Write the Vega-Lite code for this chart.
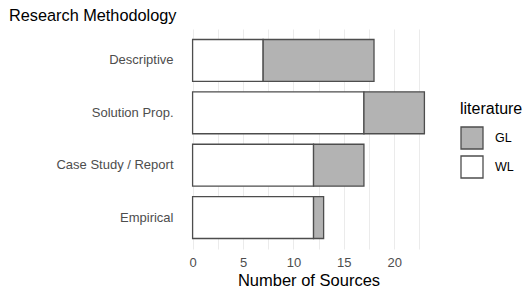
{
  "$schema": "https://vega.github.io/schema/vega-lite/v6.json",
  "autosize": {"type": "none"},
  "width": 255,
  "height": 220,
  "padding": {"left": 181, "top": 29, "right": 90, "bottom": 42},
  "background": "white",
  "config": {
    "font": "Liberation Sans",
    "view": {"stroke": null}
  },
  "title": {
    "text": "Research Methodology",
    "anchor": "start",
    "frame": "group",
    "dx": -172,
    "offset": 5,
    "fontSize": 16.3,
    "fontWeight": "normal",
    "color": "#000000",
    "font": "Liberation Sans"
  },
  "data": {
    "values": [
      {"method": "Descriptive", "literature": "WL", "n": 7},
      {"method": "Descriptive", "literature": "GL", "n": 11},
      {"method": "Solution Prop.", "literature": "WL", "n": 17},
      {"method": "Solution Prop.", "literature": "GL", "n": 6},
      {"method": "Case Study / Report", "literature": "WL", "n": 12},
      {"method": "Case Study / Report", "literature": "GL", "n": 5},
      {"method": "Empirical", "literature": "WL", "n": 12},
      {"method": "Empirical", "literature": "GL", "n": 1}
    ]
  },
  "mark": {"type": "bar", "stroke": "#4d4d4d", "strokeWidth": 1.3},
  "encoding": {
    "y": {
      "field": "method",
      "type": "nominal",
      "sort": ["Descriptive", "Solution Prop.", "Case Study / Report", "Empirical"],
      "scale": {"paddingInner": 0.2, "paddingOuter": 0.2},
      "axis": {
        "title": null,
        "domain": false,
        "ticks": false,
        "labelPadding": 8,
        "labelFontSize": 13,
        "labelColor": "#4d4d4d",
        "labelFont": "Liberation Sans"
      }
    },
    "x": {
      "field": "n",
      "type": "quantitative",
      "stack": "zero",
      "scale": {"domain": [-1.15, 24.15], "nice": false, "zero": false},
      "axis": {
        "title": "Number of Sources",
        "titleFontSize": 16.5,
        "titleFontWeight": "normal",
        "titleColor": "#000000",
        "titlePadding": 3,
        "titleFont": "Liberation Sans",
        "values": [0, 2.5, 5, 7.5, 10, 12.5, 15, 17.5, 20, 22.5],
        "labelExpr": "datum.value % 5 === 0 ? datum.label : ''",
        "domain": false,
        "ticks": false,
        "labelPadding": 7,
        "labelFontSize": 13,
        "labelColor": "#4d4d4d",
        "labelFont": "Liberation Sans",
        "grid": true,
        "gridColor": "#ebebeb",
        "gridWidth": 1
      }
    },
    "color": {
      "field": "literature",
      "type": "nominal",
      "scale": {"domain": ["GL", "WL"], "range": ["#b3b3b3", "#ffffff"]},
      "legend": {
        "orient": "none",
        "legendX": 279,
        "legendY": 72,
        "title": "literature",
        "titleFontSize": 16,
        "titleFontWeight": "normal",
        "titleColor": "#000000",
        "titleFont": "Liberation Sans",
        "titlePadding": 9,
        "symbolType": "square",
        "symbolSize": 484,
        "symbolStrokeColor": "#4d4d4d",
        "symbolStrokeWidth": 1.3,
        "labelFontSize": 12.5,
        "labelColor": "#000000",
        "labelFont": "Liberation Sans",
        "labelOffset": 11,
        "rowPadding": 1
      }
    },
    "order": {"field": "literature", "sort": "descending"}
  }
}
